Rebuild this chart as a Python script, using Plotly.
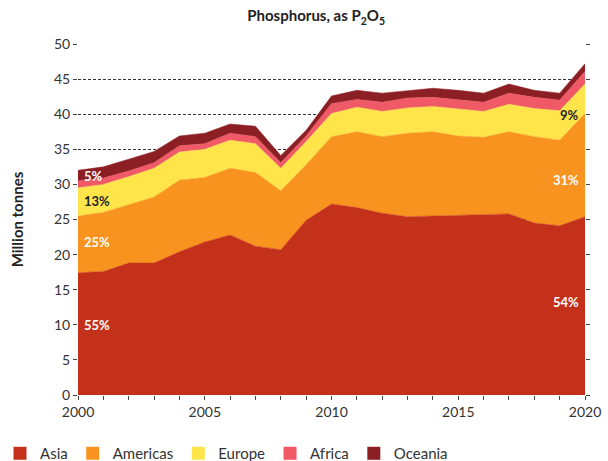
import plotly.graph_objects as go

years = list(range(2000, 2021))
asia     = [17.4, 17.6, 18.8, 18.8, 20.4, 21.8, 22.8, 21.2, 20.7, 24.9, 27.2, 26.7, 25.9, 25.4, 25.5, 25.6, 25.6, 25.8, 24.5, 24.1, 25.4]
americas = [8.1, 8.4, 8.3, 9.4, 10.2, 9.2, 9.5, 10.5, 8.4, 7.9, 9.6, 10.8, 10.9, 11.9, 12.0, 11.3, 11.1, 11.7, 12.3, 12.2, 14.7]
europe   = [4.0, 4.0, 4.0, 4.1, 4.0, 4.0, 4.0, 4.1, 3.2, 3.3, 3.3, 3.5, 3.6, 3.6, 3.6, 3.8, 3.7, 3.9, 4.0, 4.2, 4.2]
africa   = [1.0, 0.9, 0.8, 0.8, 0.9, 0.8, 1.0, 1.0, 0.8, 0.8, 1.4, 1.1, 1.3, 1.4, 1.3, 1.3, 1.3, 1.6, 1.6, 1.5, 1.8]
oceania  = [1.5, 1.6, 1.7, 1.6, 1.4, 1.5, 1.3, 1.5, 1.0, 0.8, 1.1, 1.3, 1.3, 1.1, 1.3, 1.4, 1.3, 1.3, 1.0, 1.0, 1.1]

series_names = ["Asia", "Americas", "Europe", "Africa", "Oceania"]
series_vals = [asia, americas, europe, africa, oceania]
colors = ["#C4311A", "#F7931E", "#FFE54A", "#F05A66", "#8C1F24"]

# share labels: (text, x, y, anchor, color)
labels = [
    ("55%", 2000.15, 10.0, "left", "white"),
    ("25%", 2000.15, 21.8, "left", "white"),
    ("13%", 2000.15, 27.6, "left", "#222222"),
    ("5%", 2000.15, 31.2, "left", "white"),
    ("54%", 2019.85, 13.2, "right", "white"),
    ("31%", 2019.85, 30.6, "right", "white"),
    ("9%", 2019.85, 39.9, "right", "#222222"),
]

FONT = "Lato"
fig = go.Figure()
for name, vals, c in zip(series_names, series_vals, colors):
    fig.add_trace(go.Scatter(
        x=years, y=vals, name=name, stackgroup="one", mode="lines",
        line=dict(width=0.5, color=c), fillcolor=c, showlegend=False,
        hoverinfo="skip"))
for name, c in zip(series_names, colors):
    fig.add_trace(go.Scatter(
        x=[None], y=[None], name=name, mode="markers",
        marker=dict(symbol="square", size=13, color=c), showlegend=True))

for t, x, y, anc, col in labels:
    fig.add_annotation(x=x, y=y, text=f"<b>{t}</b>", showarrow=False,
                       xanchor=anc, yanchor="middle",
                       font=dict(family=FONT, size=13, color=col))

fig.update_layout(
    width=608, height=461,
    margin=dict(l=78, r=23, t=44, b=66, autoexpand=False),
    paper_bgcolor="white", plot_bgcolor="white",
    font=dict(family=FONT, size=14, color="#333333"),
    title=dict(text="<b>Phosphorus, as P<sub>2</sub>O<sub>5</sub></b>",
               x=0.52, xanchor="center", y=0.965, yanchor="middle",
               font=dict(family=FONT, size=15, color="#222222")),
    legend=dict(orientation="h", xref="container", yref="container",
                x=0.0, xanchor="left", y=0.052, yanchor="top",
                font=dict(family=FONT, size=15, color="#333333"),
                traceorder="normal", itemwidth=30),
    showlegend=True,
)
fig.update_xaxes(range=[2000, 2020], dtick=5, tick0=2000, showgrid=False,
                 zeroline=False, showline=False, automargin=False,
                 ticks="outside", ticklen=4, tickcolor="#444444",
                 minor=dict(dtick=1, ticks="outside", ticklen=4, tickcolor="#444444"),
                 tickfont=dict(size=14, color="#333333"))
fig.update_yaxes(range=[0, 50], dtick=5, showgrid=True, gridcolor="#333333",
                 griddash="3px,2px", gridwidth=1, zeroline=False, showline=False,
                 automargin=False,
                 ticks="outside", ticklen=4, tickcolor="#444444", mirror="ticks",
                 tickfont=dict(size=14, color="#333333"),
                 title=dict(text="<b>Million tonnes</b>", standoff=26,
                            font=dict(family=FONT, size=15, color="#222222")))

fig.write_html("out.html", config={"displayModeBar": False},
               post_script="document.body.style.margin='0';document.body.style.overflow='hidden';")
